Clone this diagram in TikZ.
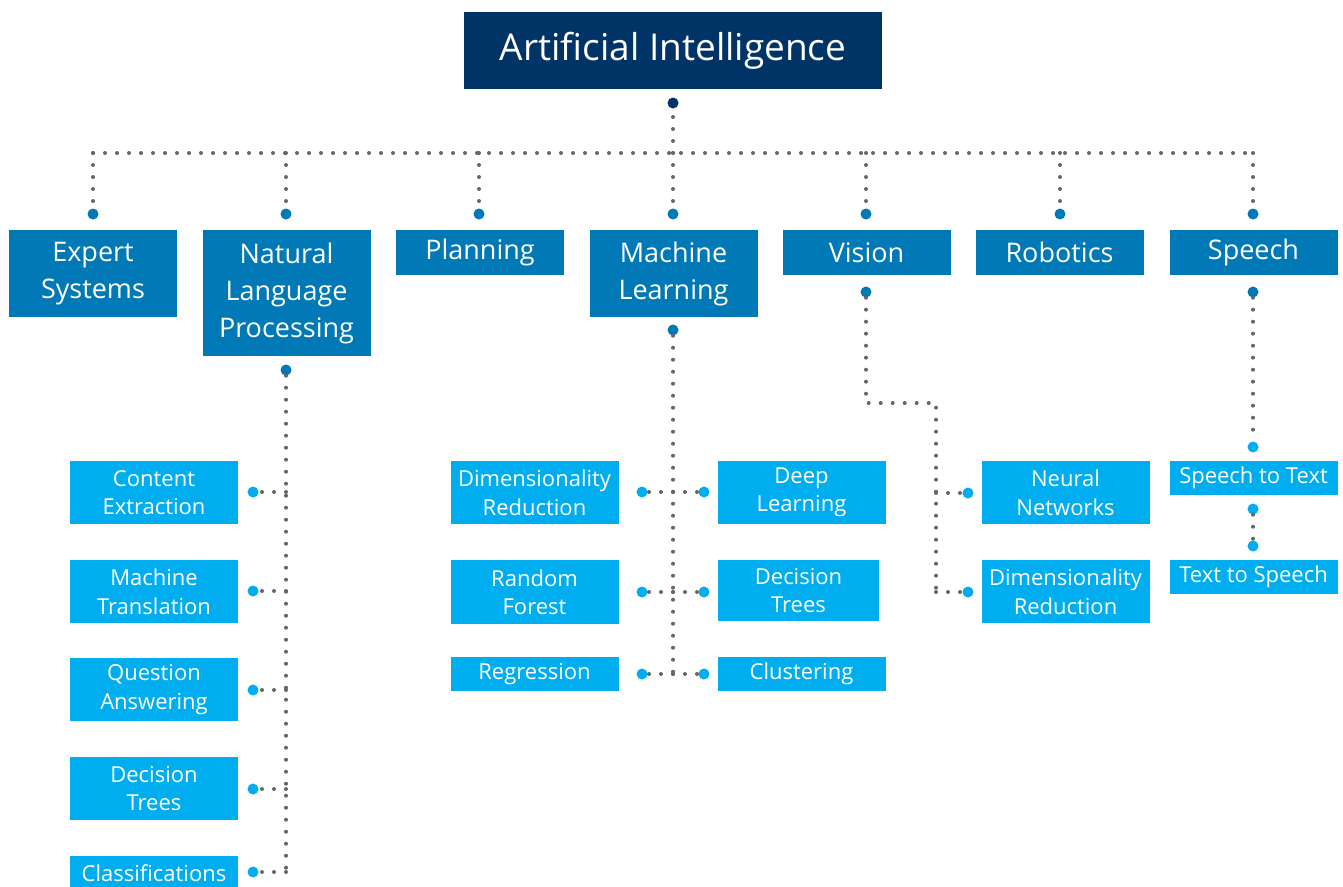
\documentclass[tikz,border=0pt]{standalone}
\usepackage{fontspec}
\setmainfont{Open Sans}
\definecolor{navy}{HTML}{003366}
\definecolor{midblue}{HTML}{0079B6}
\definecolor{skyblue}{HTML}{00AEEF}
\definecolor{dotgrey}{HTML}{666666}

\tikzset{
  aibox/.style={rectangle, fill=navy, text=white, inner sep=0pt, minimum width=418pt, minimum height=77pt, font=\fontsize{37}{44}\selectfont},
  topicbox/.style={rectangle, fill=midblue, text=white, inner sep=0pt, minimum width=168pt, align=center, font=\fontsize{27}{37}\selectfont},
  subbox/.style={rectangle, fill=skyblue, text=white, inner sep=0pt, minimum width=168pt, align=center, font=\fontsize{22}{28.5}\selectfont},
  hubdot/.style={circle, fill=navy, inner sep=0pt, minimum size=11pt},
  topdot/.style={circle, fill=midblue, inner sep=0pt, minimum size=11pt},
  subdot/.style={circle, fill=skyblue, inner sep=0pt, minimum size=11pt},
  link/.style={draw=dotgrey, line width=4pt, line cap=round, dash pattern=on 0pt off 12pt}
}

\begin{document}
\begin{tikzpicture}[x=1pt,y=-1pt]
\useasboundingbox (0,0) rectangle (1343,886);
% root
\node[aibox] (ai) at (673,50.5) {Artificial Intelligence};
\node[hubdot] (ai-d) at (673,103) {};
\coordinate (bus-w) at (93,153);
\coordinate (bus-e) at (1253,153);
% first level
\node[topicbox, minimum height=87pt] (es) at (93,273.5) {Expert\\Systems};
\node[topicbox, minimum height=126pt] (nlp) at (286.5,293) {Natural\\Language\\Processing};
\node[topicbox, minimum height=45pt] (pl) at (480,252.5) {Planning};
\node[topicbox, minimum height=87pt] (ml) at (673.5,273.5) {Machine\\Learning};
\node[topicbox, minimum height=45pt] (vi) at (866.5,252.5) {Vision};
\node[topicbox, minimum height=45pt] (ro) at (1059.5,252.5) {Robotics};
\node[topicbox, minimum height=45pt] (sp) at (1253.5,252.5) {Speech};
\node[topdot] (es-d) at (93,214) {};
\node[topdot] (nlp-d) at (286,214) {};
\node[topdot] (pl-d) at (479,214) {};
\node[topdot] (ml-d) at (673,214) {};
\node[topdot] (vi-d) at (866,214) {};
\node[topdot] (ro-d) at (1060,214) {};
\node[topdot] (sp-d) at (1253,214) {};
\draw[link] (ai-d |- bus-w) -- (ai-d);
\draw[link] (bus-w) -- (bus-e);
\foreach \t in {es,nlp,pl,ml,vi,ro,sp}
  \draw[link] (\t-d |- bus-w) -- (\t-d);
% natural language processing
\node[topdot] (nlp-o) at (286,370) {};
\node[subbox, minimum height=63pt] (ce) at (154,492.5) {Content\\Extraction};
\node[subbox, minimum height=63pt] (mt) at (154,591.5) {Machine\\Translation};
\node[subbox, minimum height=63pt] (qa) at (154,689.5) {Question\\Answering};
\node[subbox, minimum height=63pt] (dt1) at (154,788.5) {Decision\\Trees};
\node[subbox, minimum height=34pt] (cf) at (154,873) {Classifications};
\foreach \c/\y in {ce/492,mt/591,qa/690,dt1/789,cf/872}
  \node[subdot] (\c-d) at (253,\y) {};
\draw[link] (nlp-o) -- (nlp-o |- cf-d);
\foreach \c in {ce,mt,qa,dt1,cf}
  \draw[link] (nlp-o |- \c-d) -- (\c-d);
% machine learning
\node[topdot] (ml-o) at (673,330) {};
\node[subbox, minimum height=63pt] (dr1) at (534.5,492.5) {Dimensionality\\Reduction};
\node[subbox, minimum height=64pt] (rf) at (534.5,592) {Random\\Forest};
\node[subbox, minimum height=34pt] (rg) at (534.5,674) {Regression};
\node[subbox, minimum height=63pt] (dl) at (801.5,492.5) {Deep\\Learning};
\node[subbox, minimum height=61pt, minimum width=161pt] (dt2) at (798.5,590.5) {Decision\\Trees};
\node[subbox, minimum height=34pt] (cu) at (801.5,674) {Clustering};
\foreach \c/\y in {dr1/492,rf/592,rg/674}
  \node[subdot] (\c-d) at (642,\y) {};
\foreach \c/\y in {dl/492,dt2/592,cu/674}
  \node[subdot] (\c-d) at (704,\y) {};
\draw[link] (ml-o) -- (ml-o |- cu-d);
\foreach \c in {dr1,rf,rg,dl,dt2,cu}
  \draw[link] (ml-o |- \c-d) -- (\c-d);
% vision
\node[topdot] (vi-o) at (866,292) {};
\coordinate (vi-turn) at (936,403);
\node[subbox, minimum height=63pt] (nn) at (1065.5,492.5) {Neural\\Networks};
\node[subbox, minimum height=63pt] (dr2) at (1065.5,591.5) {Dimensionality\\Reduction};
\node[subdot] (nn-d) at (968,493) {};
\node[subdot] (dr2-d) at (968,592) {};
\draw[link] (vi-o) |- (vi-turn) -- (vi-turn |- dr2-d);
\foreach \c in {nn,dr2}
  \draw[link] (vi-turn |- \c-d) -- (\c-d);
% speech
\node[topdot] (sp-o) at (1253,292) {};
\node[subbox, minimum height=34pt] (st) at (1253.5,478) {Speech to Text};
\node[subbox, minimum height=34pt] (ts) at (1253.5,576.5) {Text to Speech};
\node[subdot] (st-i) at (1253,447) {};
\node[subdot] (st-o) at (1253,509) {};
\node[subdot] (ts-i) at (1253,546) {};
\draw[link] (sp-o) -- (st-i);
\draw[link] (st-o) -- (ts-i);
\end{tikzpicture}
\end{document}
